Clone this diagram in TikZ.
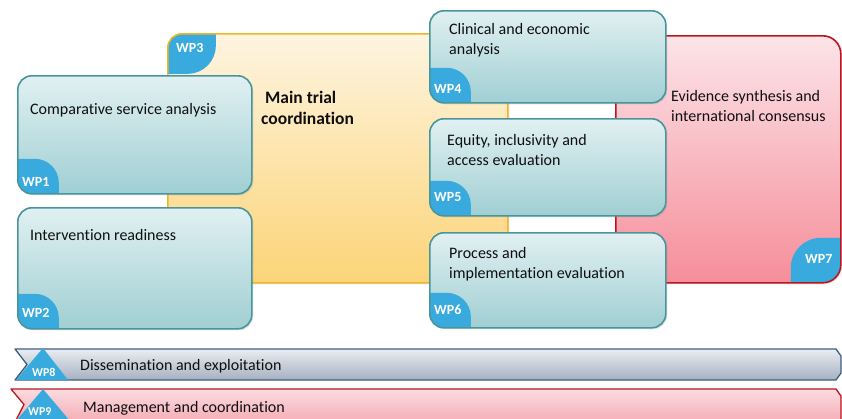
\documentclass[tikz,border=0pt]{standalone}
\usepackage{fontspec}
\setmainfont{Carlito}[Ligatures=NoCommon]
\usetikzlibrary{calc,shadows}

\definecolor{boxtop}{RGB}{225,240,242}
\definecolor{boxbot}{RGB}{160,207,211}
\definecolor{boxline}{RGB}{72,150,156}
\definecolor{tabblue}{RGB}{56,170,222}
\definecolor{yeltop}{RGB}{253,244,224}
\definecolor{yelbot}{RGB}{252,212,120}
\definecolor{yelline}{RGB}{240,182,40}
\definecolor{redtop}{RGB}{252,228,232}
\definecolor{redbot}{RGB}{245,142,154}
\definecolor{redline}{RGB}{190,20,30}
\definecolor{greytop}{RGB}{234,237,242}
\definecolor{greybot}{RGB}{165,176,192}
\definecolor{greyline}{RGB}{62,96,128}
\definecolor{pinktop}{RGB}{251,220,225}
\definecolor{pinkbot}{RGB}{242,160,170}
\definecolor{txt}{RGB}{15,15,15}

\begin{document}
\begin{tikzpicture}[x=1pt,y=-1pt]
		\tikzset{shade box/.style={anchor=north west, inner sep=0pt, line width=1.6pt,
				drop shadow={opacity=.2, shadow xshift=1.5pt, shadow yshift=-1.5pt}}}
		\tikzset{wpbox/.style={shade box, draw=boxline, rounded corners=14pt,
				top color=boxtop, bottom color=boxbot, tab sw}}
		% blue corner tabs, clipped to the box
		\tikzset{tab sw/.style={path picture={\fill[tabblue, rounded corners=24pt]
					($(path picture bounding box.south west)+(-60pt,-60pt)$) rectangle ++(101pt,95pt);}}}
		\tikzset{tab nw/.style={path picture={\fill[tabblue, rounded corners=28pt]
					($(path picture bounding box.north west)+(-60pt,60pt)$) rectangle ++(108pt,-100pt);}}}
		\tikzset{tab se/.style={path picture={\fill[tabblue, rounded corners=30pt]
					($(path picture bounding box.south east)+(60pt,-60pt)$) rectangle ++(-110pt,105pt);}}}
		\tikzset{tablabel/.style={text=white, font=\bfseries\fontsize{14}{14}\selectfont, inner sep=0pt, anchor=west}}
		\tikzset{boxtext/.style={text=txt, font=\fontsize{16}{19.5}\selectfont, align=left, inner sep=0pt, anchor=west}}
		\tikzset{bar/.style={line width=1.3pt, line join=round}}

		\useasboundingbox (0,0) rectangle (842,418);
		\clip (0,0) rectangle (842,418);

		% large boxes behind
		\node[shade box, draw=yelline, rounded corners=14pt, top color=yeltop, bottom color=yelbot, tab nw,
			minimum width=340pt, minimum height=249pt] (wp3) at (167,33) {};
		\node[shade box, draw=redline, rounded corners=18pt, top color=redtop, bottom color=redbot, tab se,
			minimum width=225pt, minimum height=247pt] (wp7) at (615,35) {};

		% blue boxes
		\node[wpbox, minimum width=234pt, minimum height=118pt] (wp1) at (17,75) {};
		\node[wpbox, minimum width=234pt, minimum height=121pt] (wp2) at (17,207) {};
		\node[wpbox, minimum width=236pt, minimum height=92pt] (wp4) at (429,10) {};
		\node[wpbox, minimum width=236pt, minimum height=97pt] (wp5) at (429,118) {};
		\node[wpbox, minimum width=236pt, minimum height=95pt] (wp6) at (429,232) {};

		\node[boxtext] (t1) at (30,110) {Comparative service analysis};
		\node[boxtext] (t2) at (30,235) {Intervention readiness};
		\node[boxtext, font=\bfseries\fontsize{17.5}{21}\selectfont] (t3) at (261,108) {\ Main trial\\coordination};
		\node[boxtext] (t4) at (449,40) {Clinical and economic\\analysis};
		\node[boxtext] (t5) at (447,150) {Equity, inclusivity and\\access evaluation};
		\node[boxtext] (t6) at (449,264) {Process and\\implementation evaluation};
		\node[boxtext] (t7) at (671,106) {Evidence synthesis and\\international consensus};

		\node[tablabel] (l1) at (22,182) {WP1};
		\node[tablabel] (l2) at (22,313) {WP2};
		\node[tablabel] (l3) at (176,48) {WP3};
		\node[tablabel] (l4) at (434,89) {WP4};
		\node[tablabel] (l5) at (434,197) {WP5};
		\node[tablabel] (l6) at (434,310) {WP6};
		\node[tablabel] (l7) at (805,259) {WP7};

		% bars at the bottom
		\draw[bar, draw=greyline, top color=greytop, bottom color=greybot]
			(15,349) -- (836,349) -- (841,356) -- (841,373) -- (836,380) -- (15,380) -- (27,364.5) -- cycle;
		\fill[tabblue] (16,380) -- (43,348) -- (68,380) -- cycle;
		\draw[bar, draw=redline, top color=pinktop, bottom color=pinkbot]
			(11,389) -- (836,389) -- (841,396) -- (841,430) -- (11,430) -- (24,404.5) -- cycle;
		\fill[tabblue] (16,421) -- (43,389) -- (70,421) -- cycle;

		\node[boxtext] (t8) at (80,366) {Dissemination and exploitation};
		\node[boxtext] (t9) at (83,408) {Management and coordination};
		\node[tablabel, font=\bfseries\fontsize{12}{12}\selectfont] (l8) at (32,372) {WP8};
		\node[tablabel, font=\bfseries\fontsize{12}{12}\selectfont] (l9) at (28,412) {WP9};
\end{tikzpicture}
\end{document}
